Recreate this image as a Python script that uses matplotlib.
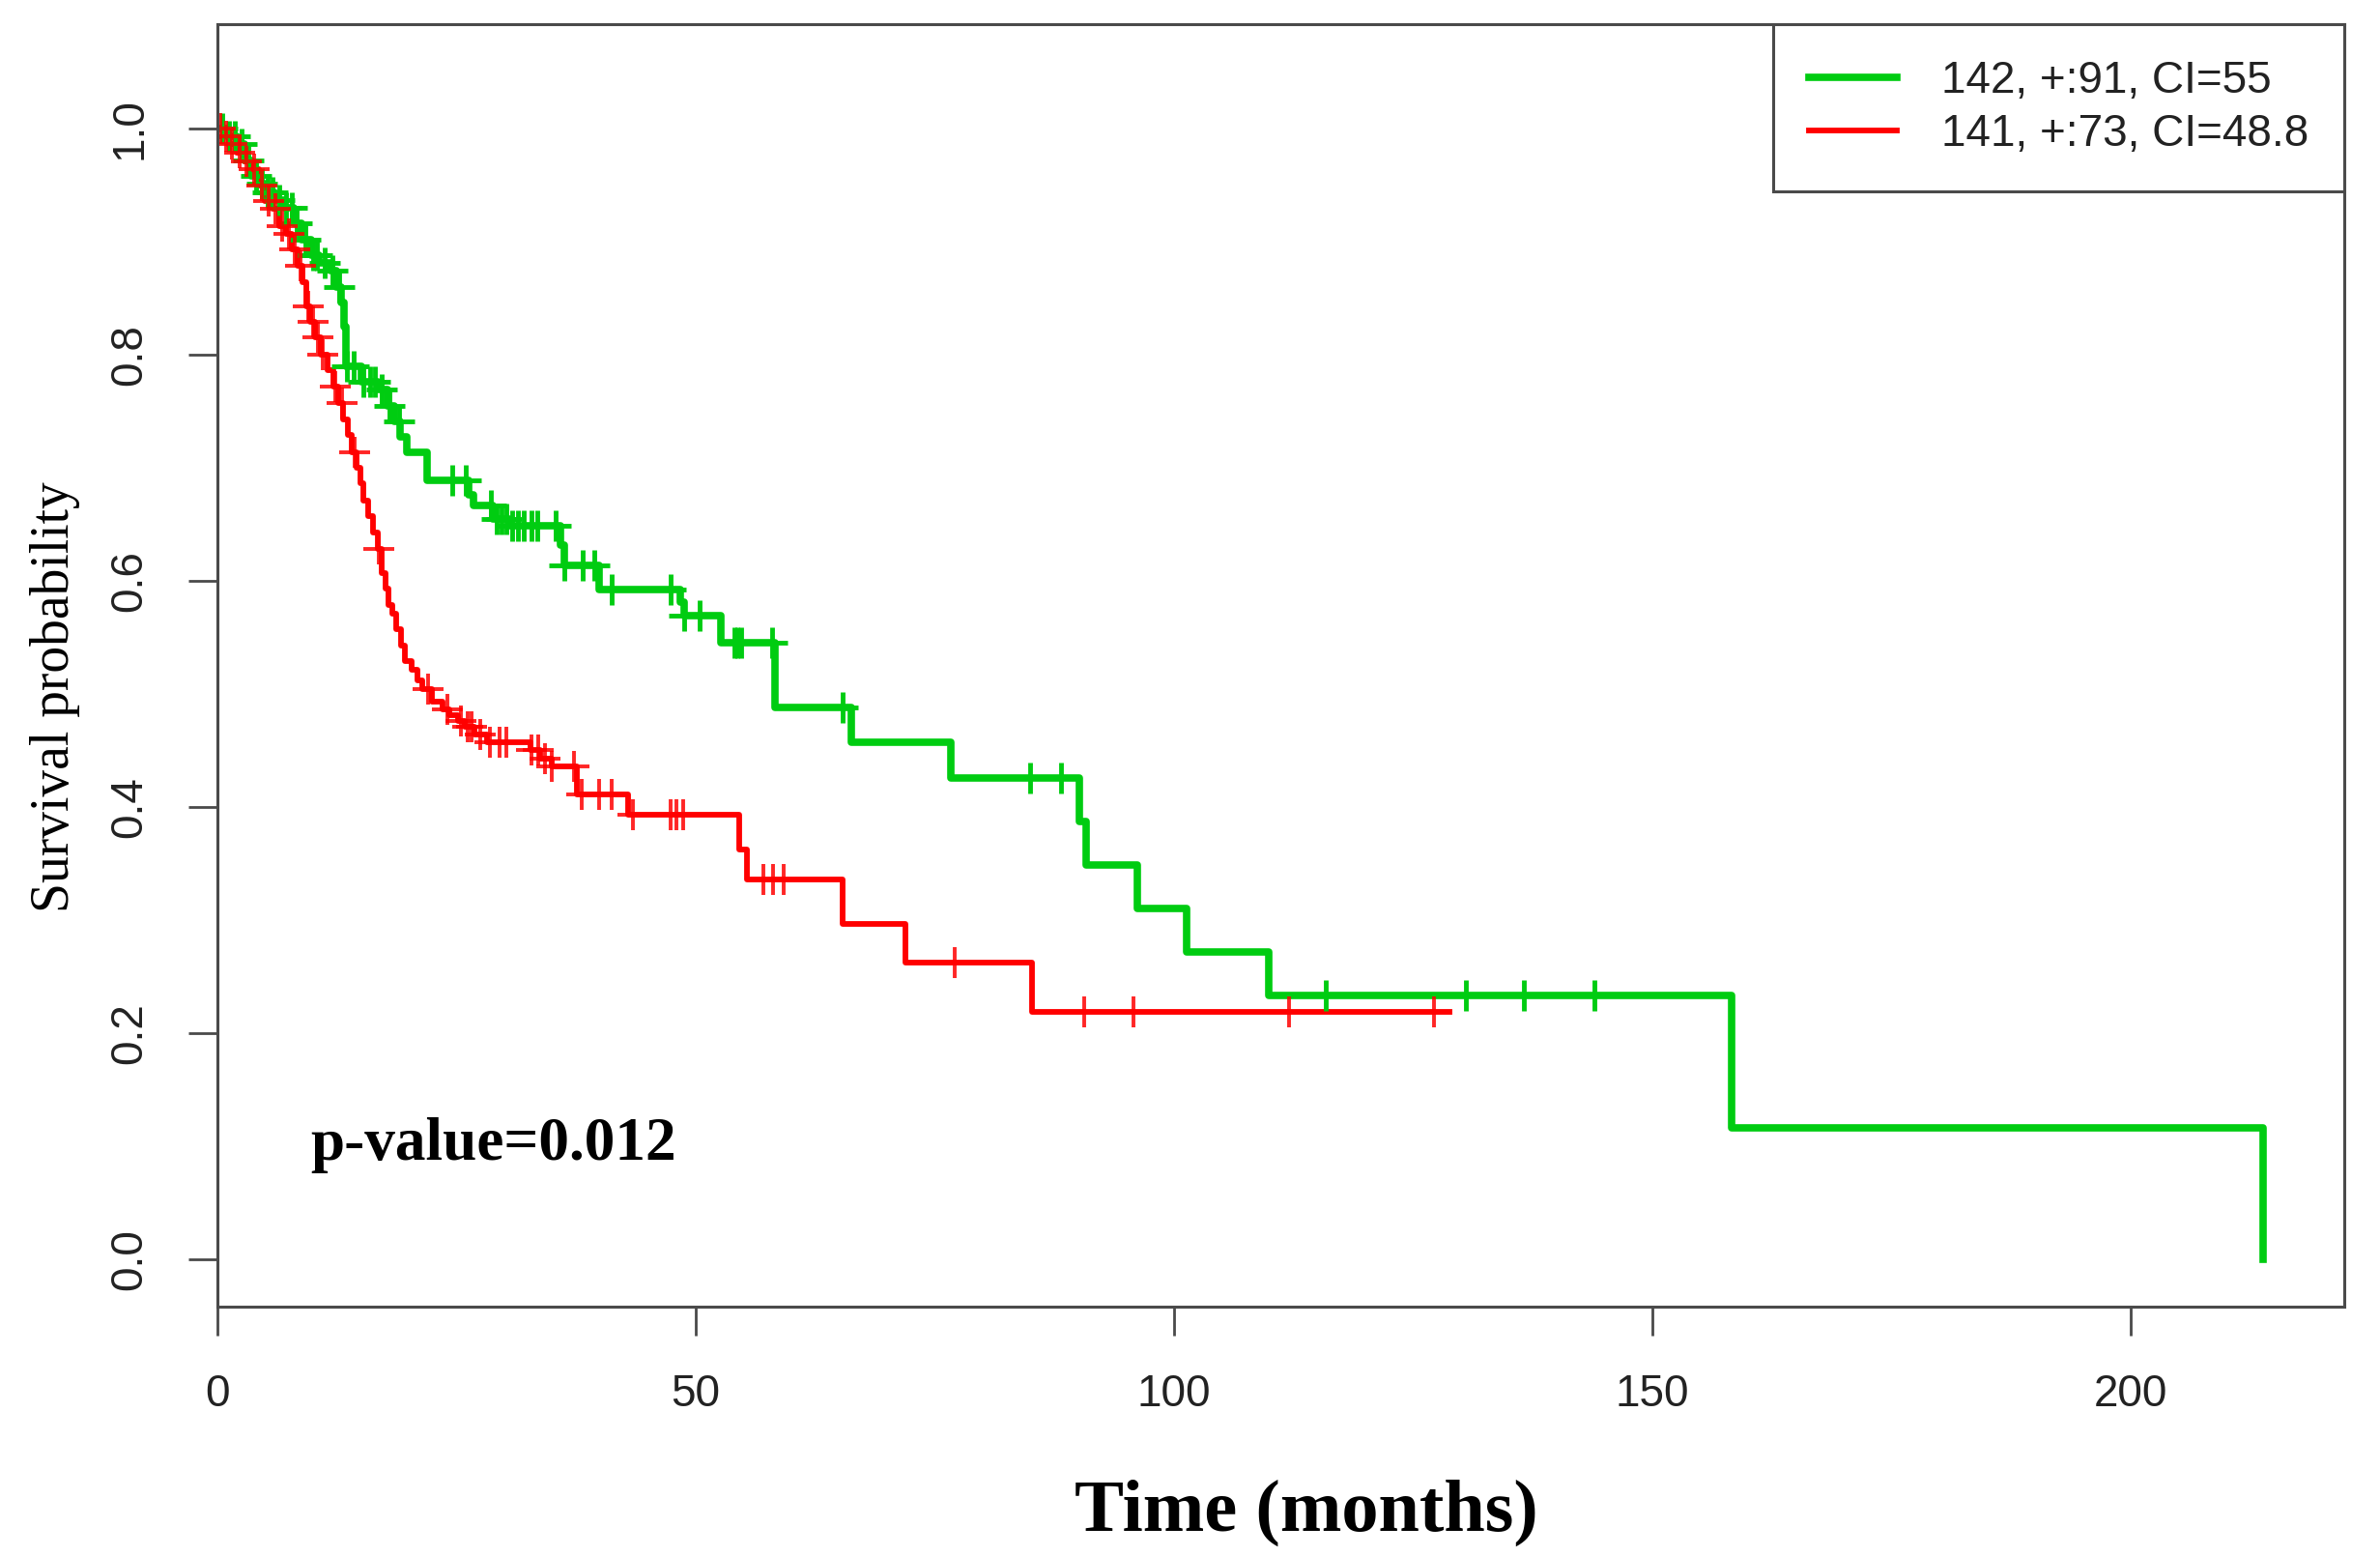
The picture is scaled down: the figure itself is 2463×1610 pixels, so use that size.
import numpy as np
import matplotlib.pyplot as plt

# green group: step times (months) and survival after each step
g_time = [0, 1.0, 2.0, 2.8, 3.5, 4.2, 5.0, 6.0, 7.0, 8.0, 8.8, 9.8, 10.6, 11.8, 12.4, 12.9,
          13.2, 13.4, 15.0, 16.8, 17.8, 18.5, 19.1, 19.8, 21.9, 26.3, 26.8, 28.8, 30.5,
          35.9, 36.3, 39.9, 48.4, 48.8, 52.6, 58.3, 66.3, 76.7, 90.1, 90.8, 96.2, 101.3,
          109.9, 158.3, 213.8]
g_surv = [1.0, 0.993, 0.986, 0.972, 0.958, 0.951, 0.944, 0.937, 0.930, 0.916, 0.902, 0.888,
          0.881, 0.874, 0.860, 0.846, 0.825, 0.790, 0.776, 0.769, 0.755, 0.741, 0.727, 0.714,
          0.689, 0.676, 0.667, 0.655, 0.649, 0.632, 0.614, 0.592, 0.581, 0.569, 0.545,
          0.488, 0.457, 0.426, 0.387, 0.349, 0.310, 0.272, 0.233, 0.116, 0.0]
g_cens = [0.5, 1.2, 1.8, 2.5, 3.2, 4.0, 4.6, 5.3, 5.8, 6.5, 7.2, 7.8, 8.3, 9.2, 10.0, 10.4,
          11.2, 12.0, 12.7, 13.5, 14.2, 15.3, 16.0, 16.5, 17.2, 18.0, 19.0, 24.5, 26.0, 28.6,
          29.2, 29.7, 30.2, 30.8, 31.4, 32.0, 32.8, 33.4, 35.4, 36.3, 38.2, 39.4, 41.2, 47.4,
          48.8, 50.4, 54.0, 54.3, 54.7, 58.0, 65.3, 84.9, 88.2, 115.9, 130.5, 136.6, 143.9]

# red group
r_time = [0, 0.6, 1.2, 2.0, 2.8, 3.5, 4.3, 5.0, 5.8, 6.5, 7.2, 7.8, 8.4, 8.9, 9.3, 9.7, 10.2,
          10.8, 11.5, 12.1, 12.6, 13.1, 13.6, 14.0, 14.5, 14.9, 15.3, 15.8, 16.3, 16.8, 17.2,
          17.6, 17.9, 18.3, 18.7, 19.2, 19.6, 20.3, 20.9, 21.4, 22.4, 23.5, 24.2, 25.2, 25.9,
          26.9, 28.2, 32.7, 33.7, 34.9, 37.6, 42.9, 54.5, 55.4, 65.3, 71.9, 85.1, 128.8]
r_surv = [1.0, 0.993, 0.986, 0.979, 0.971, 0.964, 0.950, 0.936, 0.929, 0.914, 0.907, 0.893,
          0.879, 0.864, 0.843, 0.829, 0.815, 0.800, 0.786, 0.772, 0.757, 0.743, 0.729, 0.714,
          0.700, 0.686, 0.671, 0.657, 0.643, 0.628, 0.607, 0.593, 0.579, 0.571, 0.557, 0.543,
          0.529, 0.521, 0.512, 0.504, 0.493, 0.486, 0.481, 0.476, 0.471, 0.464, 0.457, 0.450,
          0.443, 0.436, 0.411, 0.393, 0.362, 0.336, 0.297, 0.262, 0.219, 0.219]
r_cens = [0.3, 0.9, 1.5, 2.3, 3.0, 3.8, 4.6, 5.4, 6.1, 6.8, 7.5, 8.1, 8.7, 9.5, 10.0, 10.5,
          11.0, 12.3, 13.0, 14.3, 16.9, 22.0, 24.0, 25.5, 26.2, 26.6, 27.5, 28.5, 29.5, 30.2,
          32.8, 33.5, 34.2, 34.9, 37.3, 38.1, 39.9, 41.2, 43.4, 47.4, 48.0, 48.7, 57.1, 58.1,
          59.2, 77.1, 90.6, 95.8, 112.0, 127.2]

labels = ["142, +:91, CI=55", "141, +:73, CI=48.8"]
green = '#00CC11'
red = '#FF0000'
axcol = '#4a4a4a'


def surv_at(times, surv, t):
    idx = np.searchsorted(times, t, side='right') - 1
    return np.array(surv)[idx]


fig = plt.figure(figsize=(24.63, 16.10), dpi=100)
ax = fig.add_axes([0.09135, 0.16025, 0.8936, 0.8242])

ax.step(g_time, g_surv, where='post', color=green, lw=5.5, label=labels[0])
ax.step(r_time, r_surv, where='post', color=red, lw=4.2, label=labels[1])
ax.plot(g_cens, surv_at(g_time, g_surv, g_cens), '+', color=green, ms=23, mew=3.5)
ax.plot(r_cens, surv_at(r_time, r_surv, r_cens), '+', color=red, ms=23, mew=2.8, alpha=0.85)

ax.set_xlim(0, 222.3)
ax.set_ylim(-0.0419, 1.0923)
ax.set_xticks([0, 50, 100, 150, 200])
ax.set_yticks([0.0, 0.2, 0.4, 0.6, 0.8, 1.0])
ax.set_yticklabels(['0.0', '0.2', '0.4', '0.6', '0.8', '1.0'])

for sp in ax.spines.values():
    sp.set_color(axcol)
    sp.set_linewidth(2.2)
ax.tick_params(axis='both', length=21.6, width=2, color=axcol, labelsize=33, pad=28)
ax.tick_params(axis='y', labelrotation=90)
for lab in ax.get_xticklabels() + ax.get_yticklabels():
    lab.set_fontfamily('Liberation Sans')
    lab.set_color('#222222')
for lab in ax.get_yticklabels():
    lab.set_va('center')

ax.set_ylabel('Survival probability', family='Liberation Serif', fontsize=40,
              ha='center', va='center')
ax.yaxis.set_label_coords(-0.0763, 0.4755)
ax.set_xlabel('Time (months)', family='Liberation Serif', fontweight='bold', fontsize=55,
              ha='center', va='center')
ax.xaxis.set_label_coords(0.512, -0.161)

ax.text(9.75, 0.088, 'p-value=0.012', family='Liberation Serif', fontweight='bold',
        fontsize=45.5, ha='left', va='baseline')

leg = ax.legend(loc='upper right', bbox_to_anchor=(1, 1), borderaxespad=0,
                prop={'family': 'Liberation Sans', 'size': 33}, fancybox=False,
                edgecolor=axcol, framealpha=1, handlelength=2.0, handletextpad=1.0,
                borderpad=0.8, labelspacing=0.25)
leg.get_frame().set_linewidth(2.2)
for t in leg.get_texts():
    t.set_color('#222222')

fig.savefig('out.png', dpi=100)
